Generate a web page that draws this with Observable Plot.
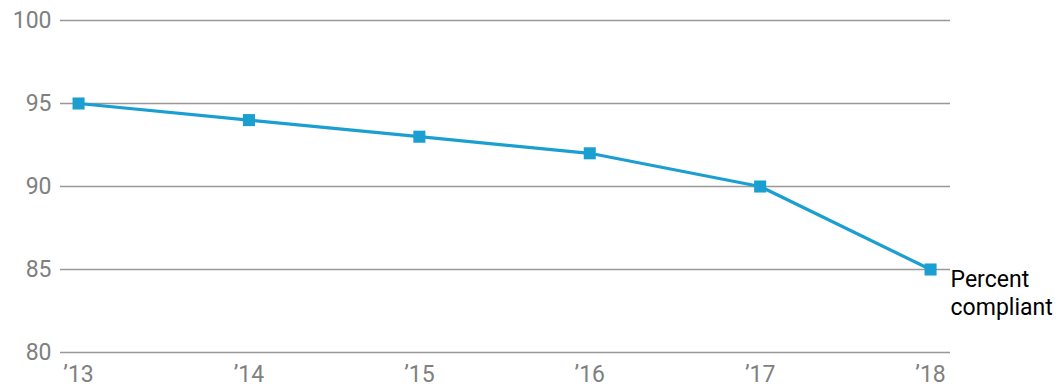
<!DOCTYPE html>
<html>
<head>
<meta charset="utf-8">
<script src="https://cdn.jsdelivr.net/npm/d3@7"></script>
<script src="https://cdn.jsdelivr.net/npm/@observablehq/plot@0.6"></script>
<style>
  html, body { margin: 0; padding: 0; background: #fff; }
  #chart svg { display: block; }
</style>
</head>
<body>
<div id="chart"></div>
<script>
const years = [2013, 2014, 2015, 2016, 2017, 2018];
const percentCompliant = [95, 94, 93, 92, 90, 85];
const yTicks = [80, 85, 90, 95, 100];
const seriesLabel = "Percent\ncompliant";

const data = years.map((y, i) => ({year: y, value: percentCompliant[i]}));
const last = data[data.length - 1];
const blue = "#1a9fd0";

const chart = Plot.plot({
  width: 1059,
  height: 388,
  marginTop: 20,
  marginBottom: 36,
  marginLeft: 60,
  marginRight: 109,
  style: {fontFamily: "Roboto, sans-serif", background: "#fff"},
  x: {domain: [2012.894, 2018.117]},
  y: {domain: [80, 100]},
  marks: [
    Plot.ruleY(yTicks, {stroke: "#999", strokeWidth: 1.5}),
    Plot.axisY({ticks: yTicks, tickSize: 0, tickPadding: 9, fontSize: 23, color: "#808080", label: null}),
    Plot.axisX({ticks: years, tickSize: 0, tickPadding: 13, fontSize: 23, color: "#808080", label: null,
      tickFormat: d => "\u2019" + String(d).slice(2)}),
    Plot.line(data, {x: "year", y: "value", stroke: blue, strokeWidth: 3.2}),
    Plot.dot(data, {x: "year", y: "value", symbol: "square", r: 6.8, fill: blue, stroke: "none"}),
    Plot.text([last], {x: "year", y: "value", text: () => seriesLabel, textAnchor: "start", lineAnchor: "top",
      dx: 20, dy: -2, fontSize: 23, lineHeight: 1.22, fill: "#000"})
  ]
});
document.getElementById("chart").appendChild(chart);
</script>
</body>
</html>
